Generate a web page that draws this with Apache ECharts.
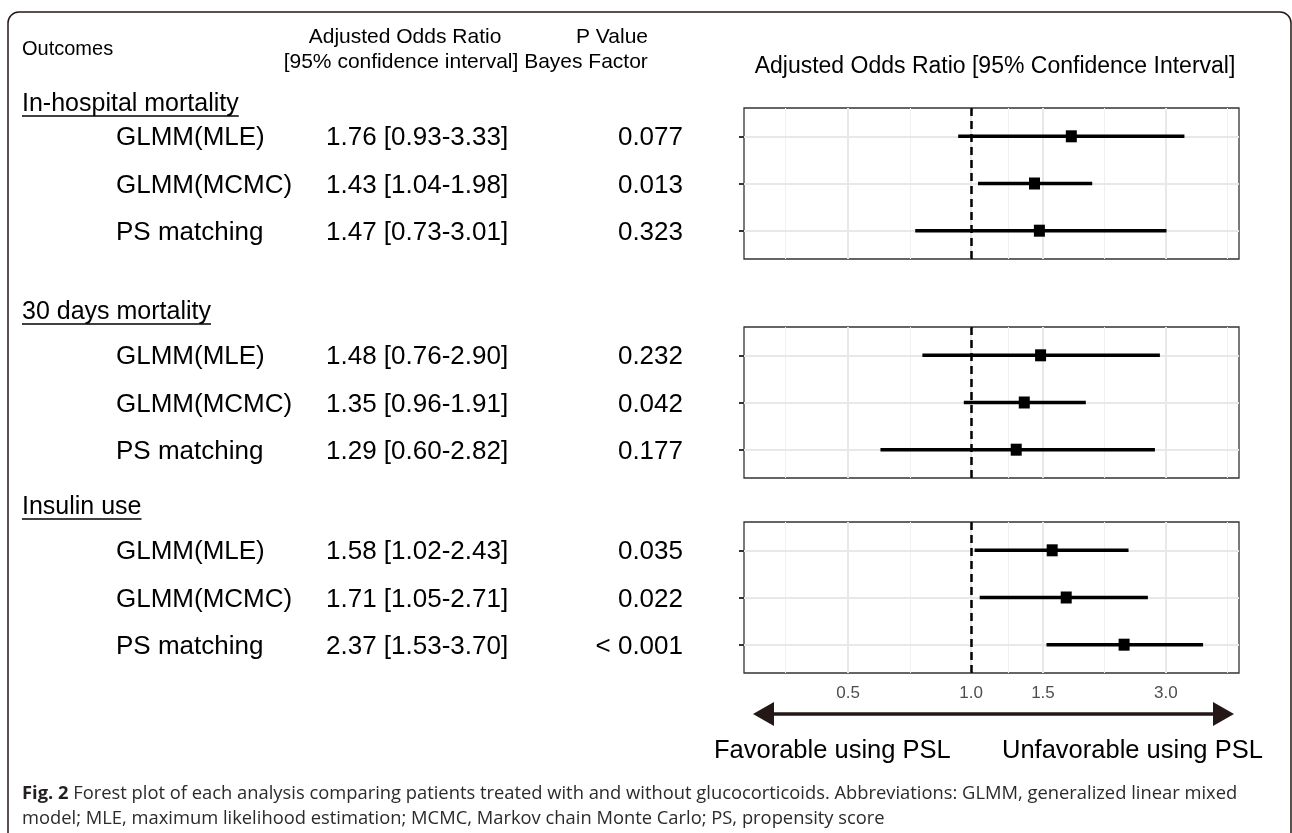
<!DOCTYPE html>
<html>
<head>
<meta charset="utf-8">
<script src="https://cdn.jsdelivr.net/npm/echarts@6/dist/echarts.min.js"></script>
<style>
  html, body { margin: 0; padding: 0; background: #fff; }
  #chart { width: 1292px; height: 833px; }
</style>
</head>
<body>
<div id="chart"></div>
<script>
const groups = ['In-hospital mortality', '30 days mortality', 'Insulin use'];
const methods = ['GLMM(MLE)', 'GLMM(MCMC)', 'PS matching'];
const estimates = [[1.76, 1.43, 1.47], [1.48, 1.35, 1.29], [1.58, 1.71, 2.37]];
const lowers = [[0.93, 1.04, 0.73], [0.76, 0.96, 0.60], [1.02, 1.05, 1.53]];
const uppers = [[3.33, 1.98, 3.01], [2.90, 1.91, 2.82], [2.43, 2.71, 3.70]];
const pValues = [['0.077', '0.013', '0.323'], ['0.232', '0.042', '0.177'], ['0.035', '0.022', '< 0.001']];
const xTicks = [0.5, 1.0, 1.5, 3.0];
const xMinorTicks = [0.354, 0.707, 1.225, 2.121, 4.243];
const xMin = 0.278;
const xMax = 4.53;

const FONT = '"Liberation Sans", Arial, Helvetica, sans-serif';
const INK = '#231815';
const panelTops = [108, 327, 522];
const panelHeight = 151;

const chart = echarts.init(document.getElementById('chart'), null, { renderer: 'canvas' });

const fmtCI = (g, r) =>
  `${estimates[g][r].toFixed(2)} [${lowers[g][r].toFixed(2)}-${uppers[g][r].toFixed(2)}]`;

// theme_bw-like grid lines, kept under the bars
const gridLines = () => ({
  silent: true,
  z: 1,
  symbol: 'none',
  label: { show: false },
  emphasis: { disabled: true },
  data: [
    ...xMinorTicks.map((v) => ({ xAxis: v, lineStyle: { color: '#f0f0f0', width: 1, type: 'solid' } })),
    ...xTicks.map((v) => ({ xAxis: v, lineStyle: { color: '#e8e8e8', width: 2, type: 'solid' } })),
    ...[1, 2, 3].map((v) => ({ yAxis: v, lineStyle: { color: '#e8e8e8', width: 2, type: 'solid' } }))
  ]
});

const series = [];
groups.forEach((g, i) => {
  series.push({
    type: 'line',
    xAxisIndex: i,
    yAxisIndex: i,
    data: [],
    z: 1,
    markLine: gridLines()
  });
  series.push({
    type: 'line',
    xAxisIndex: i,
    yAxisIndex: i,
    data: [],
    z: 2,
    markLine: {
      silent: true,
      z: 2,
      symbol: 'none',
      label: { show: false },
      emphasis: { disabled: true },
      data: [{ xAxis: 1, lineStyle: { color: '#000', width: 2.5, type: [8, 5] } }]
    }
  });
  series.push({
    type: 'custom',
    xAxisIndex: i,
    yAxisIndex: i,
    z: 3,
    data: methods.map((m, r) => [lowers[i][r], uppers[i][r], r + 1]),
    encode: { x: [0, 1], y: 2 },
    renderItem: (params, api) => {
      const a = api.coord([api.value(0), api.value(2)]);
      const b = api.coord([api.value(1), api.value(2)]);
      return {
        type: 'line',
        shape: { x1: a[0], y1: a[1], x2: b[0], y2: b[1] },
        style: { stroke: '#000', lineWidth: 3.5 }
      };
    }
  });
  series.push({
    type: 'scatter',
    xAxisIndex: i,
    yAxisIndex: i,
    z: 4,
    symbol: 'rect',
    symbolSize: [11, 12],
    itemStyle: { color: '#000', opacity: 1 },
    emphasis: { disabled: true },
    data: methods.map((m, r) => [estimates[i][r], r + 1])
  });
});

chart.setOption({
  animation: false,
  backgroundColor: '#fff',
  grid: panelTops.map((top) => ({
    left: 744,
    right: 53,
    top,
    height: panelHeight,
    show: true,
    borderColor: '#333',
    borderWidth: 1.3,
    backgroundColor: 'transparent'
  })),
  xAxis: groups.map((g, i) => ({
    type: 'log',
    logBase: 2,
    gridIndex: i,
    min: xMin,
    max: xMax,
    axisLine: { show: false, onZero: false },
    axisTick: { show: false },
    splitLine: { show: false },
    minorSplitLine: { show: false },
    axisLabel: i === 2
      ? {
          show: true,
          customValues: xTicks,
          formatter: (v) => Number(v).toFixed(1),
          color: '#4d4d4d',
          fontSize: 17,
          fontFamily: FONT,
          margin: 12
        }
      : { show: false }
  })),
  yAxis: groups.map((g, i) => ({
    type: 'value',
    gridIndex: i,
    min: 0.4,
    max: 3.6,
    inverse: true,
    axisLine: { show: false, onZero: false },
    axisLabel: { show: false },
    splitLine: { show: false },
    axisTick: {
      show: true,
      customValues: [1, 2, 3],
      length: 5,
      lineStyle: { color: '#333', width: 2 }
    }
  })),
  series
});

// text table on the left, placed on the rows of each panel
const ctx = document.createElement('canvas').getContext('2d');
const textWidth = (s, font) => {
  ctx.font = font;
  return ctx.measureText(s).width;
};

const graphic = [];
const txt = (text, x, y, size, align) =>
  graphic.push({
    type: 'text',
    x,
    y,
    silent: true,
    style: { text, fill: '#000', font: `${size}px ${FONT}`, align, verticalAlign: 'middle' }
  });

// outer frame
graphic.push({
  type: 'rect',
  silent: true,
  shape: { x: 8, y: 12, width: 1283, height: 900, r: 11 },
  style: { fill: null, stroke: INK, lineWidth: 1.5 }
});

txt('Outcomes', 22, 49, 20, 'left');
txt('Adjusted Odds Ratio', 405, 37, 21, 'center');
txt('[95% confidence interval]', 401, 62, 21, 'center');
txt('P Value', 612, 37, 21, 'center');
txt('Bayes Factor', 586, 62, 21, 'center');
txt('Adjusted Odds Ratio [95% Confidence Interval]', 995, 67, 23, 'center');

const groupY = [104, 312, 507];
groups.forEach((g, i) => {
  txt(g, 22, groupY[i], 25, 'left');
  const w = textWidth(g, `25px ${FONT}`);
  graphic.push({
    type: 'line',
    silent: true,
    shape: { x1: 22, y1: groupY[i] + 12, x2: 22 + w, y2: groupY[i] + 12 },
    style: { stroke: '#000', lineWidth: 1.3 }
  });
  methods.forEach((m, r) => {
    const y = chart.convertToPixel({ xAxisIndex: i, yAxisIndex: i }, [1, r + 1])[1];
    txt(m, 116, y + 2, 26, 'left');
    txt(fmtCI(i, r), 326, y + 2, 26, 'left');
    txt(pValues[i][r], 683, y + 2, 26, 'right');
  });
});

// direction arrow under the last panel
graphic.push({
  type: 'line',
  silent: true,
  shape: { x1: 770, y1: 714, x2: 1215, y2: 714 },
  style: { stroke: INK, lineWidth: 3.5 }
});
graphic.push({
  type: 'polygon',
  silent: true,
  shape: { points: [[753, 714], [774, 702], [774, 726]] },
  style: { fill: INK }
});
graphic.push({
  type: 'polygon',
  silent: true,
  shape: { points: [[1234, 714], [1213, 702], [1213, 726]] },
  style: { fill: INK }
});
txt('Favorable using PSL', 714, 751, 25.5, 'left');
txt('Unfavorable using PSL', 1002, 751, 25.5, 'left');

// caption, sized so the first line spans the frame like the original
const capFamily = '"Open Sans", "Noto Sans", sans-serif';
const cap1 = 'Forest plot of each analysis comparing patients treated with and without glucocorticoids. Abbreviations: GLMM, generalized linear mixed';
const cap2 = 'model; MLE, maximum likelihood estimation; MCMC, Markov chain Monte Carlo; PS, propensity score';
const capBase = textWidth('Fig. 2 ', `bold 15px ${capFamily}`) + textWidth(cap1, `15px ${capFamily}`);
const capSize = Math.min(18.5, 15 * 1216 / capBase);
graphic.push({
  type: 'text',
  silent: true,
  x: 22,
  y: 794,
  style: {
    text: '{b|Fig. 2} ' + cap1,
    font: `${capSize}px ${capFamily}`,
    fill: '#2b2b2b',
    verticalAlign: 'middle',
    rich: { b: { fontWeight: 'bold', fontSize: capSize, fontFamily: capFamily, fill: '#231f20' } }
  }
});
graphic.push({
  type: 'text',
  silent: true,
  x: 22,
  y: 819,
  style: { text: cap2, font: `${capSize}px ${capFamily}`, fill: '#2b2b2b', verticalAlign: 'middle' }
});

chart.setOption({ graphic });
</script>
</body>
</html>
